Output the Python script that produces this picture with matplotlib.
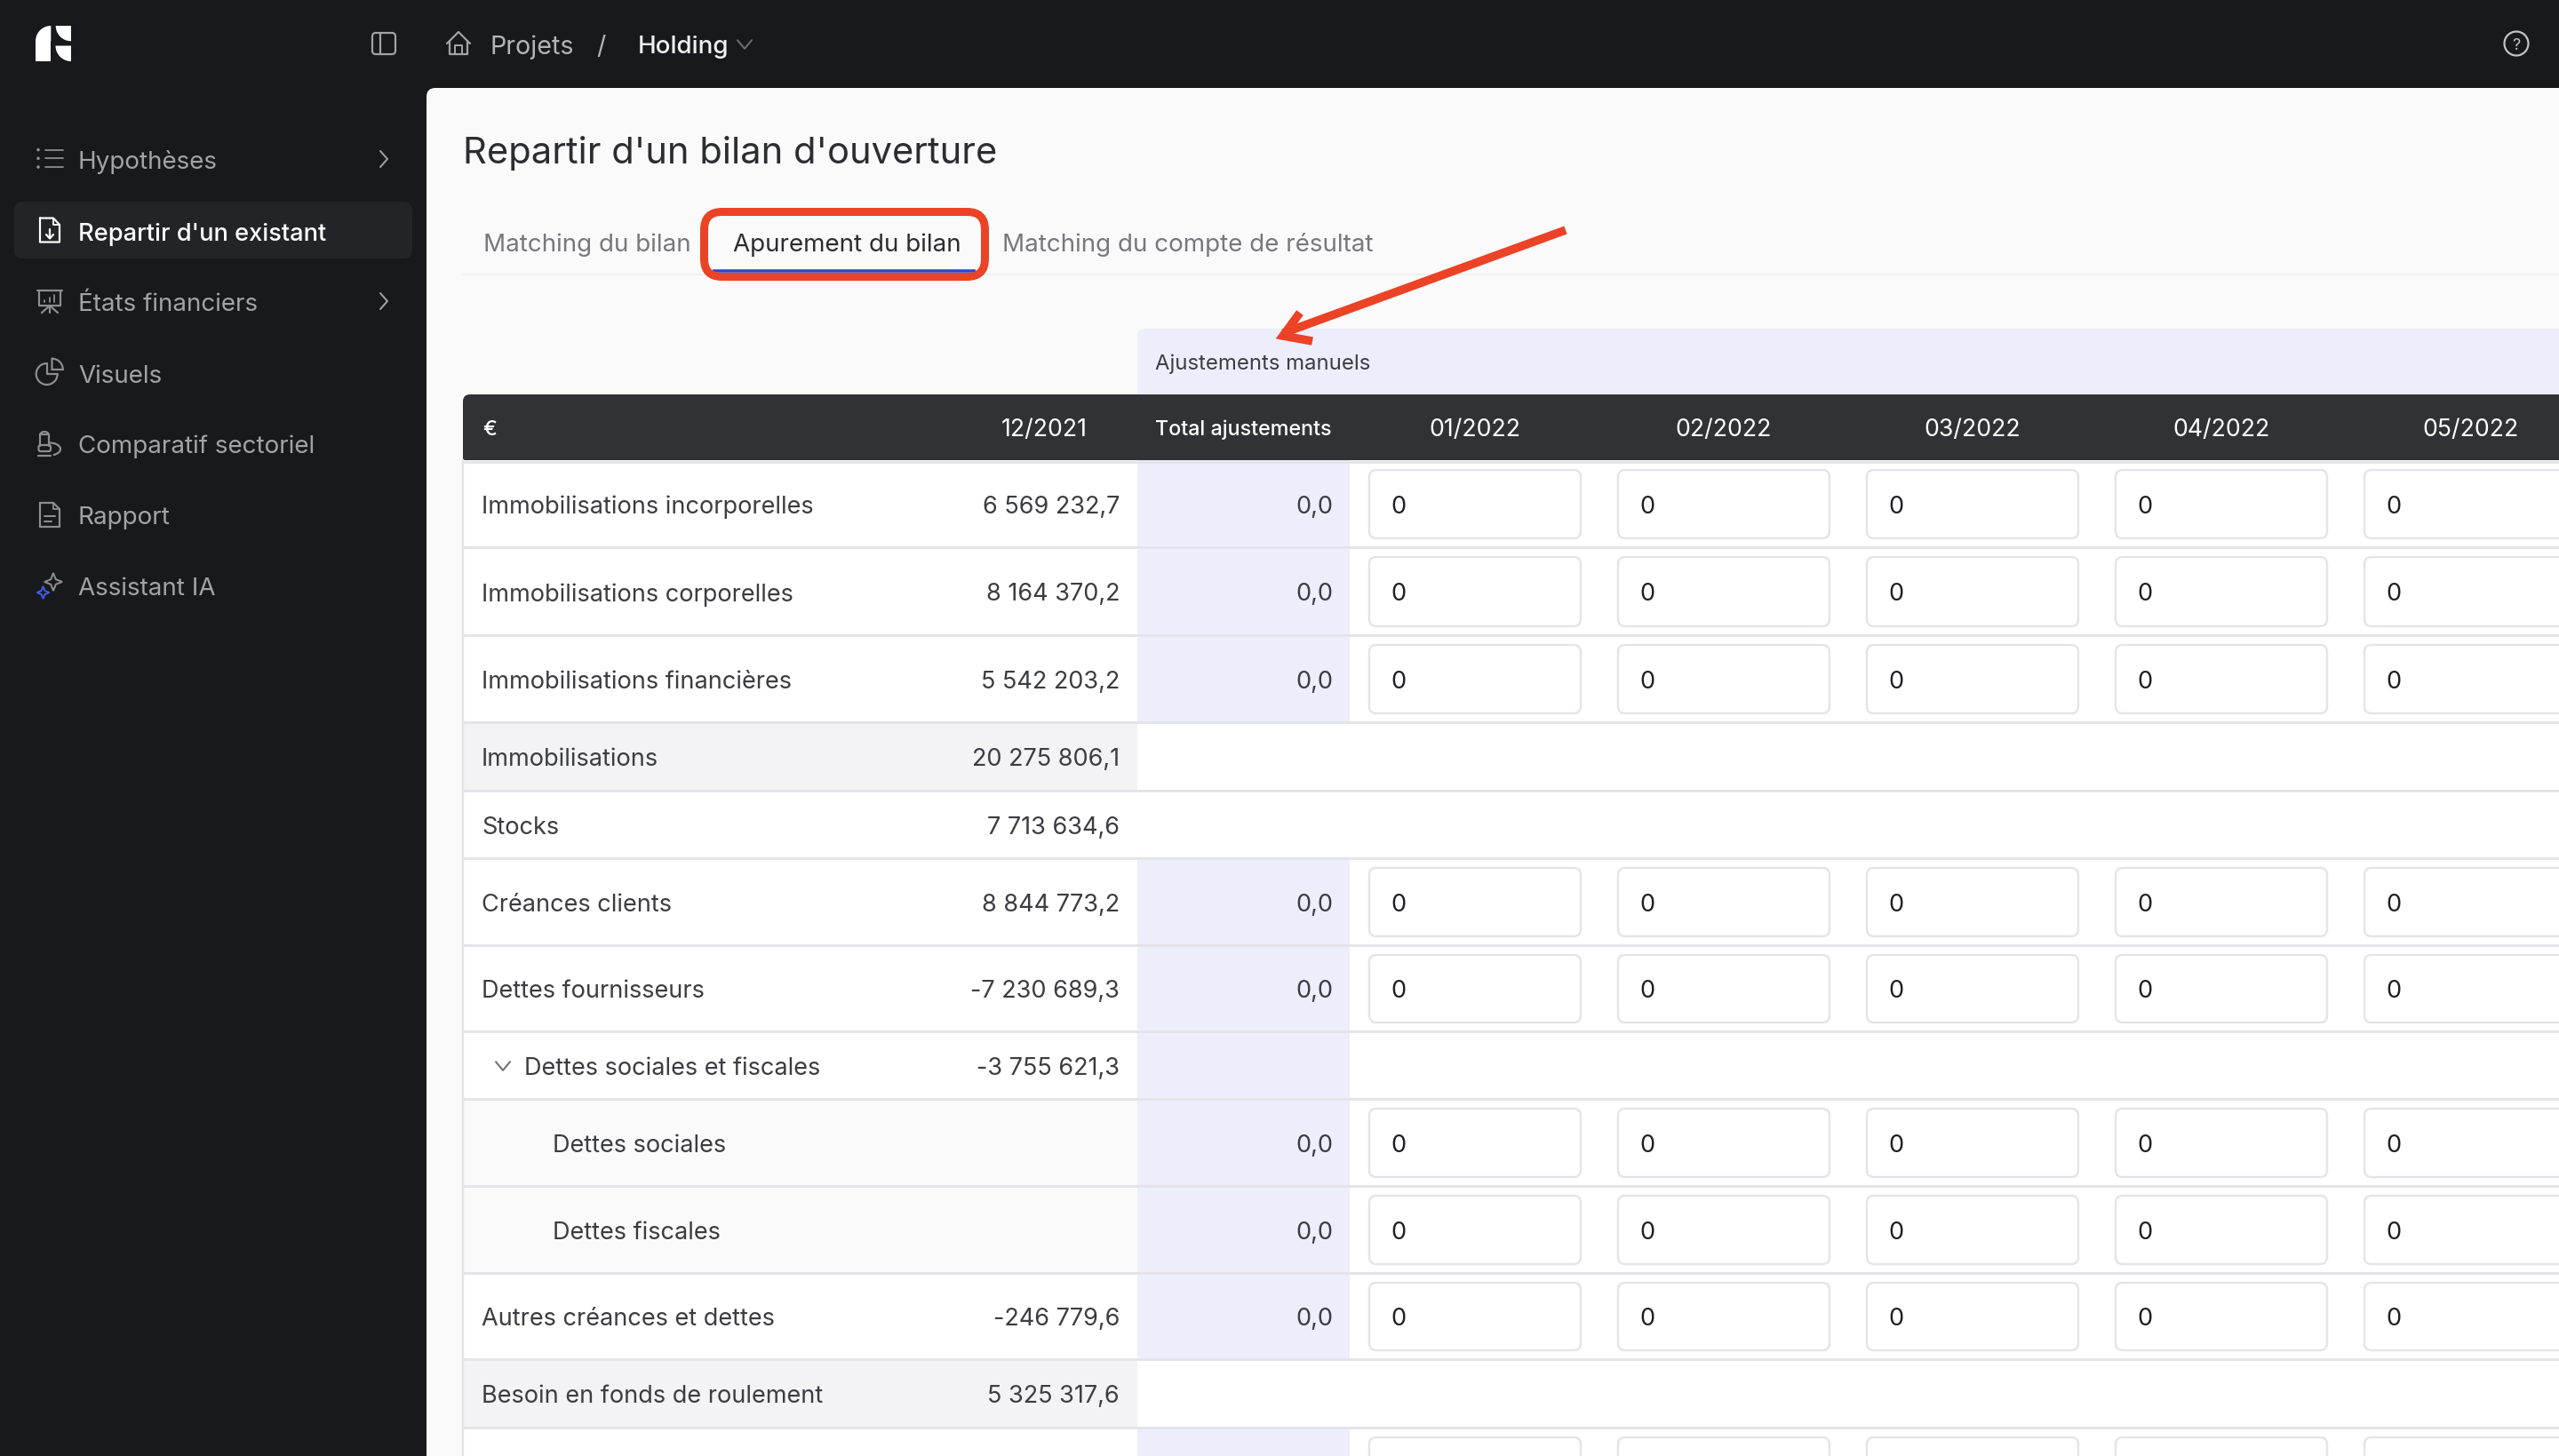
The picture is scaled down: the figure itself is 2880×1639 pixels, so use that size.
import matplotlib
matplotlib.use("Agg")
import matplotlib.pyplot as plt
from matplotlib.patches import FancyBboxPatch, Rectangle, Polygon, Circle, Arc, Wedge

plt.rcParams['font.family'] = ['Inter', 'DejaVu Sans']

# ---------- content ----------
nav_labels = ["Hypothèses", "Repartir d'un existant", "États financiers", "Visuels",
              "Comparatif sectoriel", "Rapport", "Assistant IA"]
nav_active = "Repartir d'un existant"
nav_chevrons = ["Hypothèses", "États financiers"]
crumbs = ["Projets", "/", "Holding"]
page_title = "Repartir d'un bilan d'ouverture"
tabs = ["Matching du bilan", "Apurement du bilan", "Matching du compte de résultat"]
band_title = "Ajustements manuels"
currency = "€"
col_opening = "12/2021"
col_total = "Total ajustements"
months = ["01/2022", "02/2022", "03/2022", "04/2022", "05/2022"]
row_labels = ["Immobilisations incorporelles", "Immobilisations corporelles", "Immobilisations financières",
              "Immobilisations", "Stocks", "Créances clients", "Dettes fournisseurs",
              "Dettes sociales et fiscales", "Dettes sociales", "Dettes fiscales",
              "Autres créances et dettes", "Besoin en fonds de roulement"]
row_values = ["6 569 232,7", "8 164 370,2", "5 542 203,2", "20 275 806,1", "7 713 634,6",
              "8 844 773,2", "-7 230 689,3", "-3 755 621,3", "", "", "-246 779,6", "5 325 317,6"]
row_kinds = ["input", "input", "input", "total", "plain", "input", "input", "group", "child", "child", "input", "total"]
total_adjust = "0,0"
cell_value = "0"

# ---------- layout (pixels of the screenshot) ----------
W, H = 2880, 1640
row_edges = [519, 617, 716, 814, 891, 967, 1065, 1162, 1238, 1336, 1434, 1531, 1608, 1700]
nav_y = [180, 261, 340, 421, 500, 580, 660]
box_x = [1541, 1821, 2101, 2381, 2661]
box_w = 238

DARK = "#18191C"
PANEL = "#FAFAFA"
HEAD = "#313236"
BAND = "#ECEEFC"
LINE = "#E4E4E9"
TXT = "#3C3D42"
GREY = "#77787E"
NAV = "#A3A3A6"
ICON = "#8E8E91"
RED = "#EC4225"
BLUE = "#2A45C9"

fig = plt.figure(figsize=(W / 100, H / 100), dpi=100, facecolor=DARK)
ax = fig.add_axes([0, 0, 1, 1])
ax.set_xlim(0, W)
ax.set_ylim(H, 0)
ax.axis("off")


def px(v):
    return v * 0.72


def rect(x0, y0, x1, y1, c, z=1):
    ax.add_patch(Rectangle((x0, y0), x1 - x0, y1 - y0, fc=c, ec="none", zorder=z))


def rrect(x0, y0, x1, y1, r, fc="none", ec="none", lw=0, z=2):
    ax.add_patch(FancyBboxPatch((x0 + r, y0 + r), x1 - x0 - 2 * r, y1 - y0 - 2 * r,
                                boxstyle=f"round,pad={r},rounding_size={r}",
                                fc=fc, ec=ec, lw=px(lw), zorder=z, mutation_aspect=1))


def hline(x0, x1, y, c, w=3, z=3):
    ax.plot([x0, x1], [y, y], color=c, lw=px(w), solid_capstyle="butt", zorder=z)


def path(xs, ys, c=ICON, w=2.2, z=6):
    ax.plot(xs, ys, color=c, lw=px(w), solid_capstyle="round", solid_joinstyle="round", zorder=z)


def text(x, y, s, size, c, ha="left", weight="normal", z=7):
    ax.text(x, y, s, fontsize=size, color=c, ha=ha, va="center_baseline", fontweight=weight, zorder=z)


def chevron_right(x, y, c=NAV):
    path([x - 4, x + 4, x - 4], [y - 9, y, y + 9], c, 2.0)


def chevron_down(x, y, c=GREY, s=8):
    path([x - s, x, x + s], [y - s * 0.6, y + s * 0.6, y - s * 0.6], c, 2.0)


def sparkle(cx, cy, r, c, lw):
    k = r * 0.28
    ax.add_patch(Polygon([(cx, cy - r), (cx + k, cy - k), (cx + r, cy), (cx + k, cy + k),
                          (cx, cy + r), (cx - k, cy + k), (cx - r, cy), (cx - k, cy - k)],
                         fc="none", ec=c, lw=px(lw), zorder=6))


# ---------- main panel ----------
rrect(480, 100, W + 40, H + 40, 10, fc=PANEL, z=1)

# ---------- logo ----------
ax.add_patch(Wedge((57.3, 47.3), 17.3, 180, 270, fc="white", ec="none", zorder=5))
rect(40, 47.3, 57.3, 70, "white", z=5)
ax.add_patch(Wedge((80, 30), 17.3, 90, 180, fc="white", ec="none", zorder=5))
ax.add_patch(Wedge((80, 52.5), 17.5, 90, 180, fc="white", ec="none", zorder=5))

# ---------- top bar ----------
rrect(419, 38, 445, 62, 4, ec=NAV, lw=2.2, z=5)
path([428, 428], [38, 62], NAV, 2.2)
path([503, 516, 529], [50, 37, 50], NAV, 2.2)
path([506, 506, 526, 526], [47, 62, 62, 47], NAV, 2.2)
path([512, 512, 520, 520], [62, 52, 52, 62], NAV, 2.0)
text(552, 50, crumbs[0], 20.6, "#B4B4B7")
text(671, 50, crumbs[1], 20.6, "#B4B4B7")
text(718, 50, crumbs[2], 20, "#F0F0F0", weight="medium")
chevron_down(838, 51, "#6E6F74", 8)
ax.add_patch(Circle((2832, 50), 13.5, fc="none", ec="#C4C4C6", lw=px(2.2), zorder=5))
text(2832, 50, "?", 13, "#C4C4C6", ha="center")

# ---------- side nav ----------
rrect(16, 228, 464, 292, 10, fc="#232428", z=2)
for label, y in zip(nav_labels, nav_y):
    active = label == nav_active
    text(88, y, label, 19.6 if active else 20, "#FFFFFF" if active else NAV,
         weight="medium" if active else "normal")
    if label in nav_chevrons:
        chevron_right(432, y)

# nav icons
for dy in (169.6, 179.3, 189):
    ax.add_patch(Circle((43, dy), 1.8, fc=ICON, ec="none", zorder=6))
    path([51, 71], [dy, dy], ICON, 1.8)
# file with arrow
path([45, 60, 67, 67, 45, 45], [246.5, 246.5, 254, 273.5, 273.5, 246.5], "#FFFFFF")
path([60, 60, 67], [246.5, 254, 254], "#FFFFFF", 1.8)
path([56, 56], [259, 269], "#FFFFFF", 2.2)
path([52, 56, 60], [265, 269.5, 265], "#FFFFFF", 2.2)
# easel
path([42, 70], [328, 328])
path([44, 44, 68, 68], [328, 345, 345, 328])
path([47, 56, 65], [353, 345, 353])
path([56, 56], [345, 353])
path([50, 50], [339, 341], ICON, 1.8)
path([55.5, 55.5], [336, 341], ICON, 1.8)
path([61, 61], [333, 341], ICON, 1.8)
# pie
ax.add_patch(Arc((52.7, 422), 24, 24, theta1=0, theta2=270, ec=ICON, lw=px(2.2), zorder=6))
path([52.7, 52.7, 64.7], [410, 422, 422])
ax.add_patch(Wedge((58.5, 417), 12.3, 270, 360, fc="none", ec=ICON, lw=px(2.2), zorder=6))
# comparison icon
path([45, 45, 55, 55], [503, 490, 490, 503])
ax.add_patch(Arc((50, 491), 10, 8, theta1=180, theta2=360, ec=ICON, lw=px(2.2), zorder=6))
rrect(43.5, 502, 57, 509, 2, ec=ICON, lw=2.2, z=6)
path([43, 57], [514, 514])
ax.add_patch(Arc((56, 506.5), 24, 14, theta1=-100, theta2=60, ec=ICON, lw=px(2.2), zorder=6))
# report file
path([45, 60, 67, 67, 45, 45], [567, 567, 574, 594, 594, 567])
path([60, 60, 67], [567, 574, 574], ICON, 1.8)
path([50, 62], [582, 582], ICON, 2)
path([50, 58], [587.5, 587.5], ICON, 2)
# sparkles
sparkle(60, 656, 10, ICON, 2)
sparkle(48.5, 668, 7, "#3F5BE6", 2)

# ---------- title and tabs ----------
text(521, 168.5, page_title, 30, "#2C2D31")
hline(521, W, 310, "#F0F0F1", 2, z=2)
tab_x = [544, 825, 1128]
for i, (label, x) in enumerate(zip(tabs, tab_x)):
    text(x, 272.5, label, 20, "#2C2D31" if i == 1 else GREY)
hline(802, 1098, 306, BLUE, 3.5, z=4)
rrect(792.5, 239.5, 1108.5, 312.5, 20, ec=RED, lw=9, z=5)

# ---------- table ----------
rrect(1280, 371, W + 30, 470, 8, fc=BAND, z=2)
text(1300, 407.5, band_title, 17.2, TXT)
rect(521, 462, W, H, "#FFFFFF", z=2)
rrect(521, 445, W + 30, 519, 8, fc=HEAD, z=3)
rect(521, 480, W, 519, HEAD, z=3)
hline(521, W, 520.5, LINE, 3, z=4)
text(543, 481, currency, 17, "#FFFFFF", weight="medium")
text(1224, 481, col_opening, 19.2, "#FFFFFF", ha="right")
text(1300, 481, col_total, 16.8, "#FFFFFF", weight="medium")
for m, x in zip(months, box_x):
    text(x + box_w / 2, 481, m, 19.2, "#FFFFFF", ha="center")

label_x = {"child": 622, "group": 590}
for label, value, kind, top, bot in zip(row_labels, row_values, row_kinds, row_edges[:-2], row_edges[1:-1]):
    cy = (top + bot) / 2
    if kind == "total":
        rect(521, top, 1280, bot, "#F3F3F6", z=2.5)
    elif kind == "child":
        rect(521, top, 1280, bot, "#FAFAFA", z=2.5)
    if kind in ("input", "group", "child"):
        rect(1280, top, 1519, bot, BAND, z=2.5)
    hline(521, W, bot, LINE, 3)
    text(label_x.get(kind, 542), cy, label, 19.5, TXT)
    if value:
        text(1260, cy, value, 19.5, TXT, ha="right")
    if kind == "group":
        chevron_down(566, cy + 1, "#6E6F74", 8)
    if kind in ("input", "child"):
        text(1500, cy, total_adjust, 19.5, TXT, ha="right")
        b0, b1 = top + 11, bot - 10
        for x in box_x:
            rrect(x, b0, x + box_w, b1, 8, fc="#FFFFFF", ec=LINE, lw=2.4, z=4)
            text(x + 24, cy, cell_value, 19.5, "#1F2024")

# last, cut-off row
top, bot = row_edges[-2], row_edges[-1]
rect(1280, top, 1519, bot, BAND, z=2.5)
for x in box_x:
    rrect(x, top + 11, x + box_w, bot, 8, fc="#FFFFFF", ec=LINE, lw=2.4, z=4)
ax.plot([521, 521], [519, H], color=LINE, lw=px(2.5), zorder=4)

# ---------- annotation arrow ----------
ax.plot([1762, 1444], [260, 376], color=RED, lw=px(9.5), solid_capstyle="butt", zorder=8)
ax.plot([1463, 1444, 1477], [353, 379, 385], color=RED, lw=px(9.5), solid_joinstyle="miter", solid_capstyle="butt", zorder=8)

fig.savefig("out.png", dpi=100, facecolor=DARK)
